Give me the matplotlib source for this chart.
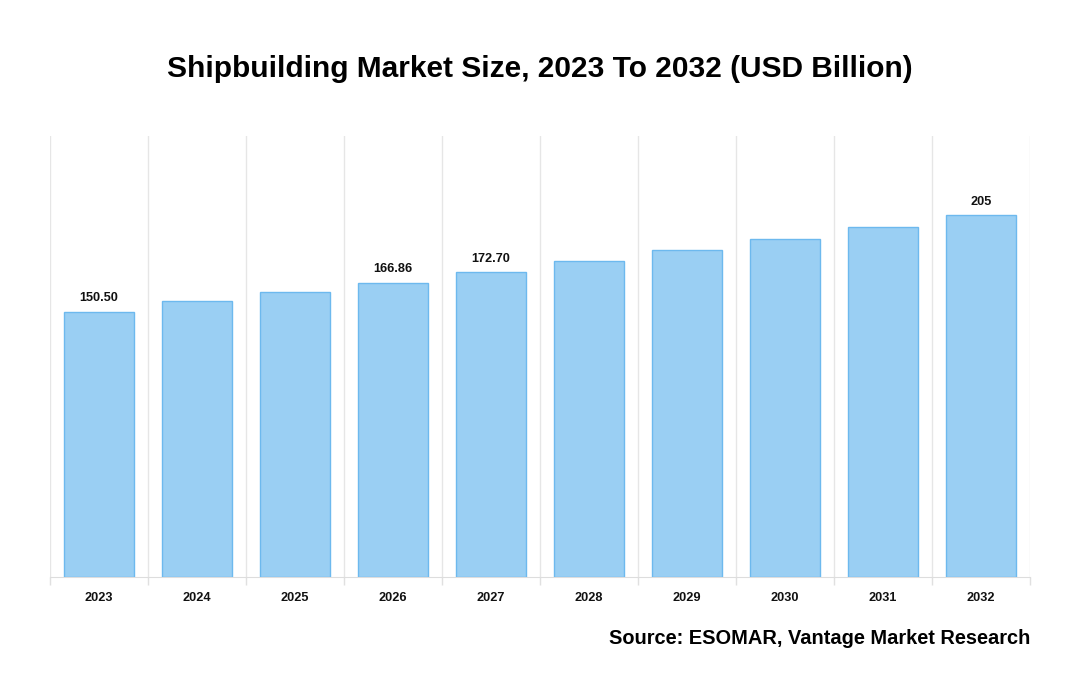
import matplotlib
matplotlib.use("Agg")
import matplotlib.pyplot as plt
import numpy as np

plt.rcParams['font.family'] = ['Liberation Sans', 'DejaVu Sans']

years = ["2023", "2024", "2025", "2026", "2027", "2028", "2029", "2030", "2031", "2032"]
values = [150.50, 156.2, 161.3, 166.86, 172.70, 178.9, 185.1, 191.6, 198.2, 205]
labels = {0: "150.50", 3: "166.86", 4: "172.70", 9: "205"}

fig = plt.figure(figsize=(10.8, 7), dpi=100)
ax = fig.add_axes([50/1080, 1-577/700, 980/1080, (577-136)/700])

x = np.arange(len(years))
ax.bar(x, values, width=0.71, color="#9ACFF3", edgecolor="#6DB9EE", linewidth=1, zorder=3)

for i, t in labels.items():
    ax.annotate(t, (x[i], values[i]), xytext=(0, 5.5), textcoords="offset points",
                ha="center", va="bottom", fontsize=9.2, fontweight="bold", color="#111111")

ax.set_xlim(-0.5, len(years) - 0.5)
ax.set_ylim(0, 250)
ax.set_xticks(x)
ax.set_xticklabels(years, fontsize=9.2, fontweight="bold", color="#111111")
ax.set_xticks(np.arange(-0.5, len(years)), minor=True)
ax.tick_params(axis="x", which="major", length=0, pad=10.5)
ax.tick_params(axis="x", which="minor", length=6, color="#E0E0E0", width=1)
ax.set_yticks([])
ax.grid(axis="x", which="minor", color="#E6E6E6", linewidth=1, zorder=0)
for s in ["top", "right", "left"]:
    ax.spines[s].set_visible(False)
ax.spines["bottom"].set_color("#DDDDDD")

fig.text(0.5, 1-69/700, "Shipbuilding Market Size, 2023 To 2032 (USD Billion)",
         ha="center", va="center", fontsize=21.5, fontweight="bold", color="#000000")
fig.text(1030/1080, 1-638/700, "Source: ESOMAR, Vantage Market Research",
         ha="right", va="center", fontsize=14.4, fontweight="bold", color="#000000")

fig.savefig("out.png", dpi=100)
